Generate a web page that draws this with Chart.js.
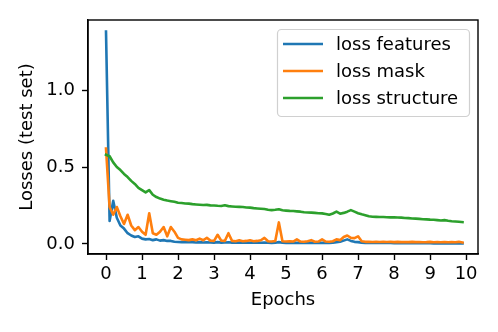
<!DOCTYPE html>
<html>
<head>
<meta charset="utf-8">
<script src="https://cdn.jsdelivr.net/npm/chart.js@4"></script>
<style>
  html, body { margin: 0; padding: 0; background: #fff; }
  #wrap { width: 498px; height: 332px; position: relative; }
</style>
</head>
<body>
<div id="wrap"><canvas id="chart"></canvas></div>
<script>
const epochs = [0,0.1,0.2,0.3,0.4,0.5,0.6,0.7,0.8,0.9,1,1.1,1.2,1.3,1.4,1.5,1.6,1.7,1.8,1.9,
  2,2.1,2.2,2.3,2.4,2.5,2.6,2.7,2.8,2.9,3,3.1,3.2,3.3,3.4,3.5,3.6,3.7,3.8,3.9,
  4,4.1,4.2,4.3,4.4,4.5,4.6,4.7,4.8,4.9,5,5.1,5.2,5.3,5.4,5.5,5.6,5.7,5.8,5.9,
  6,6.1,6.2,6.3,6.4,6.5,6.6,6.7,6.8,6.9,7,7.1,7.2,7.3,7.4,7.5,7.6,7.7,7.8,7.9,
  8,8.1,8.2,8.3,8.4,8.5,8.6,8.7,8.8,8.9,9,9.1,9.2,9.3,9.4,9.5,9.6,9.7,9.8,9.9];

const lossFeatures = [1.38,0.15,0.28,0.17,0.12,0.10,0.07,0.055,0.045,0.05,
  0.035,0.03,0.032,0.025,0.03,0.022,0.025,0.02,0.02,0.015,
  0.013,0.012,0.014,0.011,0.012,0.01,0.012,0.01,0.011,0.01,
  0.009,0.012,0.009,0.01,0.011,0.009,0.008,0.009,0.008,0.009,
  0.008,0.009,0.008,0.008,0.01,0.008,0.007,0.008,0.012,0.008,
  0.007,0.008,0.007,0.008,0.007,0.007,0.008,0.007,0.007,0.006,
  0.008,0.007,0.007,0.008,0.012,0.015,0.022,0.03,0.02,0.014,
  0.012,0.008,0.007,0.006,0.007,0.006,0.006,0.007,0.006,0.006,
  0.005,0.006,0.005,0.006,0.005,0.005,0.006,0.005,0.005,0.005,
  0.005,0.004,0.005,0.004,0.005,0.004,0.004,0.005,0.004,0.004];

const lossMask = [0.62,0.24,0.19,0.24,0.18,0.13,0.19,0.12,0.09,0.11,
  0.08,0.06,0.20,0.07,0.06,0.08,0.11,0.05,0.11,0.08,
  0.04,0.03,0.028,0.025,0.03,0.024,0.035,0.024,0.04,0.022,
  0.02,0.06,0.022,0.02,0.07,0.02,0.018,0.024,0.018,0.02,
  0.024,0.018,0.02,0.024,0.04,0.018,0.016,0.02,0.14,0.018,
  0.016,0.018,0.016,0.03,0.016,0.015,0.018,0.025,0.015,0.016,
  0.03,0.016,0.015,0.018,0.03,0.025,0.045,0.055,0.04,0.038,
  0.05,0.018,0.014,0.015,0.013,0.014,0.013,0.015,0.013,0.014,
  0.012,0.014,0.012,0.013,0.012,0.014,0.012,0.013,0.011,0.012,
  0.014,0.011,0.012,0.011,0.013,0.011,0.012,0.011,0.014,0.010];

const lossStructure = [0.58,0.57,0.53,0.50,0.48,0.455,0.435,0.41,0.39,0.365,
  0.35,0.335,0.35,0.32,0.305,0.295,0.288,0.282,0.278,0.274,
  0.268,0.266,0.263,0.262,0.259,0.257,0.255,0.253,0.254,0.251,
  0.25,0.248,0.247,0.252,0.246,0.244,0.242,0.241,0.24,0.237,
  0.236,0.233,0.231,0.229,0.227,0.222,0.22,0.222,0.226,0.219,
  0.217,0.215,0.214,0.212,0.21,0.206,0.205,0.204,0.202,0.2,
  0.199,0.195,0.19,0.198,0.21,0.197,0.202,0.21,0.22,0.21,
  0.2,0.193,0.187,0.18,0.177,0.176,0.175,0.175,0.174,0.173,
  0.174,0.172,0.171,0.169,0.168,0.166,0.165,0.163,0.161,0.16,
  0.158,0.157,0.155,0.153,0.155,0.151,0.148,0.146,0.144,0.142];

const seriesNames = ['loss features', 'loss mask', 'loss structure'];
const xTicks = [0,1,2,3,4,5,6,7,8,9,10];
const yTicks = [0, 0.5, 1.0];

const FONT = 'DejaVu Sans';
const FSIZE = 18;
const colors = ['#1f77b4', '#ff7f0e', '#2ca02c'];

function pts(ys) {
  return ys.map((y, i) => ({x: epochs[i], y: y}));
}

// frame around the plot area (top + right spines)
const framePlugin = {
  id: 'frame',
  afterDatasetsDraw(chart) {
    const a = chart.chartArea, ctx = chart.ctx;
    ctx.save();
    ctx.strokeStyle = '#000';
    ctx.lineWidth = 1.4;
    ctx.strokeRect(a.left, a.top, a.right - a.left, a.bottom - a.top);
    ctx.restore();
  }
};

// matplotlib-like legend in the upper right corner
const legendPlugin = {
  id: 'boxLegend',
  afterDraw(chart) {
    const ctx = chart.ctx;
    const x0 = 277, y0 = 29, w = 192, h = 87;
    ctx.save();
    ctx.beginPath();
    ctx.roundRect(x0 + 0.5, y0 + 0.5, w, h, 4);
    ctx.fillStyle = 'rgba(255,255,255,0.8)';
    ctx.fill();
    ctx.strokeStyle = '#d0d0d0';
    ctx.lineWidth = 1.2;
    ctx.stroke();
    ctx.font = FSIZE + 'px "' + FONT + '"';
    ctx.textBaseline = 'middle';
    chart.data.datasets.forEach((ds, i) => {
      const y = 44 + i * 27;
      ctx.strokeStyle = ds.borderColor;
      ctx.lineWidth = 2.7;
      ctx.beginPath();
      ctx.moveTo(283, y);
      ctx.lineTo(323, y);
      ctx.stroke();
      ctx.fillStyle = '#000';
      ctx.fillText(ds.label, 336, y + 1);
    });
    ctx.restore();
  }
};

new Chart(document.getElementById('chart'), {
  type: 'line',
  data: {
    datasets: [
      { label: seriesNames[0], data: pts(lossFeatures), borderColor: colors[0], order: 2 },
      { label: seriesNames[1], data: pts(lossMask), borderColor: colors[1], order: 1 },
      { label: seriesNames[2], data: pts(lossStructure), borderColor: colors[2], order: 0 }
    ]
  },
  options: {
    responsive: true,
    maintainAspectRatio: false,
    animation: false,
    layout: { padding: { top: 20, right: 20, left: 0, bottom: 0 } },
    elements: {
      point: { radius: 0 },
      line: { borderWidth: 2.6, tension: 0, borderJoinStyle: 'round', borderCapStyle: 'square' }
    },
    plugins: {
      legend: { display: false },
      tooltip: { enabled: false }
    },
    scales: {
      x: {
        type: 'linear',
        min: -0.5,
        max: 10.33,
        afterBuildTicks: (s) => { s.ticks = xTicks.map(v => ({value: v})); },
        afterFit: (s) => { s.height = 78; },
        grid: { drawOnChartArea: false, tickLength: 6, color: '#000', tickWidth: 1.4 },
        border: { color: '#000', width: 1.4 },
        ticks: { color: '#000', font: { family: FONT, size: FSIZE }, padding: 4, maxRotation: 0,
                 callback: (v) => String(v) },
        title: { display: true, text: 'Epochs', color: '#000', font: { family: FONT, size: FSIZE }, padding: { top: 2, bottom: 21 } }
      },
      y: {
        min: -0.065,
        max: 1.455,
        afterBuildTicks: (s) => { s.ticks = yTicks.map(v => ({value: v})); },
        afterFit: (s) => { s.width = 88; },
        grid: { drawOnChartArea: false, tickLength: 6, color: '#000', tickWidth: 1.4 },
        border: { color: '#000', width: 1.4 },
        ticks: { color: '#000', font: { family: FONT, size: FSIZE }, padding: 7,
                 callback: (v) => v.toFixed(1) },
        title: { display: true, text: 'Losses (test set)', color: '#000', font: { family: FONT, size: FSIZE }, padding: { top: 17, bottom: 2 } }
      }
    }
  },
  plugins: [framePlugin, legendPlugin]
});
</script>
</body>
</html>
